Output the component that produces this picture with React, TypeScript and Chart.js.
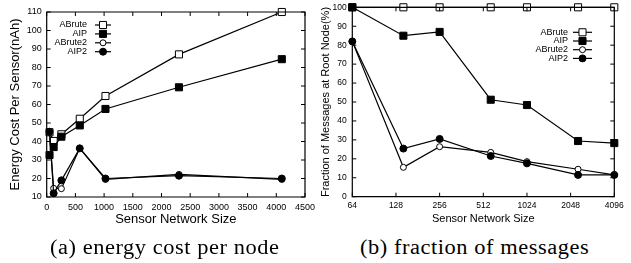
import React, { useEffect, useRef, useState } from 'react';
import { Chart, registerables } from 'chart.js';

Chart.register(...registerables);

// ---------- data ----------
const seriesNames = ['ABrute', 'AIP', 'ABrute2', 'AIP2'];

// (a) energy cost per node
const energySizes = [49, 121, 256, 576, 1024, 2304, 4096];
const energyABrute = [45, 40.3, 43.9, 52.3, 64.6, 87.1, 110];
const energyAIP = [32.7, 37, 42.6, 48.7, 57.6, 69.3, 84.5];
const energyABrute2 = [45, 14.7, 14.5, 36.3, 19.5, 22.2, 19.5];
const energyAIP2 = [45.3, 12, 19, 36.3, 20, 21.5, 20];
const energyXTicks = [0, 500, 1000, 1500, 2000, 2500, 3000, 3500, 4000, 4500];
const energyYTicks = [10, 20, 30, 40, 50, 60, 70, 80, 90, 100, 110];

// (b) fraction of messages
const fracSizes = [64, 144, 256, 576, 1024, 2304, 4096];
const fracABrute = [100, 100, 100, 100, 100, 100, 100];
const fracAIP = [100, 85, 87, 51.2, 48.4, 29.4, 28.3];
const fracABrute2 = [82, 15.5, 26.4, 23.4, 18.5, 14.5, 11.5];
const fracAIP2 = [82, 25.4, 30.5, 21.5, 17.6, 11.5, 11.5];
const fracXTicks = [64, 128, 256, 512, 1024, 2048, 4096];
const fracYTicks = [0, 10, 20, 30, 40, 50, 60, 70, 80, 90, 100];

const captionA = '(a) energy cost per node';
const captionB = '(b) fraction of messages';
const xTitle = 'Sensor Network Size';
const yTitleA = 'Energy Cost Per Sensor(nAh)';
const yTitleB = 'Fraction of Messages at Root Node(%)';

// ---------- styles ----------
const SANS = "'Liberation Sans', Arial, Helvetica, sans-serif";
const markerStyles = [
  { shape: 'rect', fill: '#fff', r: 5 },
  { shape: 'rect', fill: '#000', r: 5 },
  { shape: 'circle', fill: '#fff', r: 3 },
  { shape: 'circle', fill: '#000', r: 3.5 },
];

function drawMarker(ctx: CanvasRenderingContext2D, idx: number, x: number, y: number) {
  const m = markerStyles[idx];
  ctx.save();
  ctx.beginPath();
  if (m.shape === 'rect') {
    const s = Math.SQRT1_2 * m.r;
    ctx.rect(x - s, y - s, 2 * s, 2 * s);
  } else {
    ctx.arc(x, y, m.r, 0, Math.PI * 2);
  }
  ctx.fillStyle = m.fill;
  ctx.fill();
  ctx.lineWidth = 1;
  ctx.strokeStyle = '#000';
  ctx.stroke();
  ctx.restore();
}

function makeDatasets(xs: number[], series: number[][]) {
  return series.map((ys, i) => ({
    label: seriesNames[i],
    data: xs.map((x, j) => ({ x, y: ys[j] })),
    borderColor: '#000',
    borderWidth: 1.2,
    backgroundColor: markerStyles[i].fill,
    pointBackgroundColor: markerStyles[i].fill,
    pointBorderColor: '#000',
    pointBorderWidth: 1,
    pointStyle: markerStyles[i].shape as any,
    pointRadius: markerStyles[i].r,
    pointHoverRadius: markerStyles[i].r,
    order: 3 - i,
    tension: 0,
    fill: false,
    clip: false as any,
  }));
}

type Geom = {
  xTicks: number[]; yTicks: number[]; drawXLabels: boolean;
  xTitle: string | null; yTitle: string; titleFont: number;
  xTitleY: number; yTitleX: number;
  textRight: number; lineStart: number; lineEnd: number; y0: number; dy: number;
  tickFont: number; xPad: number; yPad: number;
};

function framePlugin(g: Geom) {
  return {
    id: 'frameLegend',
    afterDraw(chart: any) {
      const ctx: CanvasRenderingContext2D = chart.ctx;
      const { left, right, top, bottom } = chart.chartArea;
      const xs = chart.scales.x;
      const ys = chart.scales.y;
      const tl = 4;
      ctx.save();
      ctx.strokeStyle = '#000';
      ctx.lineWidth = 1.2;
      ctx.beginPath();
      ctx.rect(left, top, right - left, bottom - top);
      ctx.stroke();
      ctx.lineWidth = 1;
      ctx.beginPath();
      g.xTicks.forEach((v) => {
        const px = xs.getPixelForValue(v);
        ctx.moveTo(px, bottom);
        ctx.lineTo(px, bottom - tl);
        ctx.moveTo(px, top);
        ctx.lineTo(px, top + tl);
      });
      g.yTicks.forEach((v) => {
        const py = ys.getPixelForValue(v);
        ctx.moveTo(left, py);
        ctx.lineTo(left + tl, py);
        ctx.moveTo(right, py);
        ctx.lineTo(right - tl, py);
      });
      ctx.stroke();

      ctx.fillStyle = '#000';
      // axis titles
      ctx.font = `${g.titleFont}px ${SANS}`;
      ctx.textAlign = 'center';
      ctx.textBaseline = 'middle';
      if (g.xTitle) ctx.fillText(g.xTitle, (left + right) / 2, g.xTitleY);
      ctx.save();
      ctx.translate(g.yTitleX, (top + bottom) / 2);
      ctx.rotate(-Math.PI / 2);
      ctx.fillText(g.yTitle, 0, 0);
      ctx.restore();

      // legend
      ctx.font = `9px ${SANS}`;
      ctx.textAlign = 'right';
      ctx.textBaseline = 'middle';
      seriesNames.forEach((name, i) => {
        const y = g.y0 + i * g.dy;
        ctx.fillText(name, g.textRight, y);
        ctx.beginPath();
        ctx.lineWidth = 1.2;
        ctx.moveTo(g.lineStart, y);
        ctx.lineTo(g.lineEnd, y);
        ctx.stroke();
        drawMarker(ctx, i, (g.lineStart + g.lineEnd) / 2, y);
      });

      // tick labels
      ctx.fillStyle = '#000';
      ctx.font = `${g.tickFont}px ${SANS}`;
      if (g.drawXLabels) {
        ctx.textAlign = 'center';
        ctx.textBaseline = 'top';
        g.xTicks.forEach((v) => {
          ctx.fillText(String(v), xs.getPixelForValue(v), bottom + g.xPad);
        });
      }
      ctx.textAlign = 'right';
      ctx.textBaseline = 'middle';
      g.yTicks.forEach((v) => {
        ctx.fillText(String(v), left - g.yPad, ys.getPixelForValue(v));
      });
      ctx.restore();
    },
  };
}

function axisBase(ticksArr: number[]) {
  return {
    min: ticksArr[0],
    max: ticksArr[ticksArr.length - 1],
    ticks: { display: false },
    grid: { display: false, drawTicks: false },
    border: { display: false },
    title: { display: false },
  };
}

function energyConfig(): any {
  return {
    type: 'line',
    data: {
      datasets: makeDatasets(energySizes, [energyABrute, energyAIP, energyABrute2, energyAIP2]),
    },
    options: {
      responsive: false,
      maintainAspectRatio: false,
      animation: false,
      events: [],
      layout: { padding: { top: 12, right: 13, left: 0, bottom: 0 } },
      plugins: { legend: { display: false }, tooltip: { enabled: false } },
      scales: {
        x: {
          type: 'linear',
          ...axisBase(energyXTicks),
          afterFit: (s: any) => { s.height = 33; },
        },
        y: {
          type: 'linear',
          ...axisBase(energyYTicks),
          afterFit: (s: any) => { s.width = 46.7; },
        },
      },
    },
    plugins: [framePlugin({
      xTicks: energyXTicks, yTicks: energyYTicks, drawXLabels: false,
      xTitle: null, yTitle: yTitleA, titleFont: 13, xTitleY: 219, yTitleX: 15,
      textRight: 87, lineStart: 95, lineEnd: 111, y0: 25, dy: 8.9, tickFont: 9, xPad: 5, yPad: 5,
    })],
  };
}

function fracConfig(): any {
  return {
    type: 'line',
    data: {
      datasets: makeDatasets(fracSizes, [fracABrute, fracAIP, fracABrute2, fracAIP2]),
    },
    options: {
      responsive: false,
      maintainAspectRatio: false,
      animation: false,
      events: [],
      layout: { padding: { top: 7.3, right: 16.7, left: 0, bottom: 0 } },
      plugins: { legend: { display: false }, tooltip: { enabled: false } },
      scales: {
        x: {
          type: 'logarithmic',
          ...axisBase(fracXTicks),
          afterFit: (s: any) => { s.height = 33.3; },
        },
        y: {
          type: 'linear',
          ...axisBase(fracYTicks),
          afterFit: (s: any) => { s.width = 34.3; },
        },
      },
    },
    plugins: [framePlugin({
      xTicks: fracXTicks, yTicks: fracYTicks, drawXLabels: true,
      xTitle, yTitle: yTitleB, titleFont: 11, xTitleY: 219, yTitleX: 7.5,
      textRight: 568 - 318, lineStart: 573 - 318, lineEnd: 592 - 318, y0: 32.3, dy: 8.7, tickFont: 8.5, xPad: 5, yPad: 5.5,
    })],
  };
}

const captionStyle: React.CSSProperties = {
  position: 'absolute',
  top: 236.5,
  fontFamily: "'Liberation Serif', 'Times New Roman', Times, serif",
  fontSize: 20,
  lineHeight: '20px',
  letterSpacing: '0.5px',
  whiteSpace: 'nowrap',
  color: '#000',
  transform: 'scaleX(1.12)',
  transformOrigin: 'left top',
};

export default function App() {
  const leftRef = useRef<HTMLCanvasElement>(null);
  const rightRef = useRef<HTMLCanvasElement>(null);
  const [xLabelPos, setXLabelPos] = useState<number[]>([]);
  const [plotBox, setPlotBox] = useState<{ left: number; right: number; bottom: number }>({ left: 46.7, right: 305, bottom: 197 });

  useEffect(() => {
    const c1 = new Chart(leftRef.current as HTMLCanvasElement, energyConfig());
    const c2 = new Chart(rightRef.current as HTMLCanvasElement, fracConfig());
    const xs: any = c1.scales.x;
    setXLabelPos(energyXTicks.map((v) => xs.getPixelForValue(v)));
    setPlotBox({ left: c1.chartArea.left, right: c1.chartArea.right, bottom: c1.chartArea.bottom });
    return () => {
      c1.destroy();
      c2.destroy();
    };
  }, []);

  return (
    <div style={{ position: 'fixed', left: 0, top: 0, width: 631, height: 263, background: '#fff', overflow: 'hidden' }}>
      <canvas ref={leftRef} width={318} height={230} style={{ position: 'absolute', left: 0, top: 0, width: 318, height: 230 }} />
      <canvas ref={rightRef} width={313} height={230} style={{ position: 'absolute', left: 318, top: 0, width: 313, height: 230 }} />
      {xLabelPos.map((px, i) => (
        <span
          key={energyXTicks[i]}
          style={{ position: 'absolute', left: px - 15, width: 30, top: plotBox.bottom + 4.6, height: 10, lineHeight: '10px', textAlign: 'center', fontFamily: SANS, fontSize: 9, color: '#000', whiteSpace: 'nowrap' }}
        >
          {String(energyXTicks[i])}
        </span>
      ))}
      <div style={{ position: 'absolute', left: plotBox.left, width: plotBox.right - plotBox.left, top: 211, height: 16, lineHeight: '16px', textAlign: 'center', fontFamily: SANS, fontSize: 13, color: '#000', whiteSpace: 'nowrap' }}>{xTitle}</div>
      <div style={{ ...captionStyle, left: 50 }}>{captionA}</div>
      <div style={{ ...captionStyle, left: 360 }}>{captionB}</div>
    </div>
  );
}
